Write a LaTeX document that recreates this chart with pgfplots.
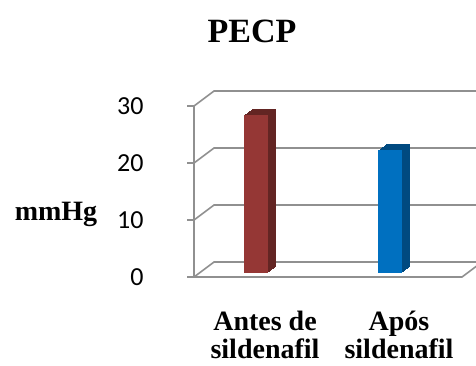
\documentclass[border=0pt]{standalone}
\usepackage{fontspec}
\setmainfont{Liberation Serif}
\newfontfamily\calibri{Carlito}
\usepackage{pgfplots}
\pgfplotsset{compat=1.18}

\definecolor{redfront}{HTML}{953735}
\definecolor{redside}{HTML}{632523}
\definecolor{bluefront}{HTML}{0070C0}
\definecolor{blueside}{HTML}{004A80}
\definecolor{wallgray}{HTML}{909090}

\begin{document}
\begin{tikzpicture}
\path[use as bounding box] (0,0) rectangle (476pt,365pt);

% chart title and value-axis title
\node[anchor=base, font=\bfseries\fontsize{34}{40}\selectfont] at (252pt,323pt) {PECP};
\node[anchor=base, font=\bfseries\fontsize{28}{32}\selectfont] at (56pt,145pt) {mmHg};

\begin{axis}[
  scale only axis,
  width=268pt, height=171pt,
  at={(194pt,88pt)}, anchor=south west,
  xmin=-0.418, xmax=1.582,
  ymin=0, ymax=30,
  clip=false,
  axis line style={draw=none},
  xtick={0,1},
  xticklabels={Antes de\\sildenafil, Após\\sildenafil},
  xticklabel style={align=center, font=\bfseries\fontsize{28}{28}\selectfont,
    inner sep=0pt, anchor=north, xshift=15pt, yshift=-27pt},
  x tick style={draw=none},
  ytick={0,10,20,30},
  ytick pos=left,
  y tick style={draw=wallgray, line width=1.6pt},
  tick align=outside,
  major tick length=7pt,
  yticklabel style={font=\calibri\fontsize{26}{30}\selectfont, xshift=-40pt, anchor=east},
  /pgf/number format/assume math mode=true,
  ybar, bar width=24pt, bar shift=0pt,
]

% walls: back gridlines, diagonals to the front axis, front axis and floor
\pgfplotsinvokeforeach{0,10,20,30}{
  \draw[wallgray, line width=1.6pt]
    (axis cs:-0.418,#1) -- ([shift={(20pt,15pt)}]axis cs:-0.418,#1)
    -- ([shift={(40pt,15pt)}]axis cs:1.582,#1);
}
\draw[wallgray, line width=1.6pt] (axis cs:-0.418,0) -- (axis cs:-0.418,30);
\draw[wallgray, line width=1.6pt] (axis cs:-0.418,0) -- (axis cs:1.582,0)
  -- ([shift={(20pt,15pt)}]axis cs:1.582,0);

% column depth (side and top faces)
\pgfplotsinvokeforeach{8,7,6,5,4,3,2,1}{
  \addplot[fill=redside, draw=none, forget plot,
    xshift={5.7pt+#1pt}, yshift={4pt+0.75*#1pt}] coordinates {(0,27.7)};
  \addplot[fill=blueside, draw=none, forget plot,
    xshift={5.7pt+#1pt}, yshift={4pt+0.75*#1pt}] coordinates {(1,21.5)};
}
% column front faces
\addplot[fill=redfront, draw=none, xshift=5.7pt, yshift=4pt] coordinates {(0,27.7)};
\addplot[fill=bluefront, draw=none, xshift=5.7pt, yshift=4pt] coordinates {(1,21.5)};
\end{axis}
\end{tikzpicture}
\end{document}
